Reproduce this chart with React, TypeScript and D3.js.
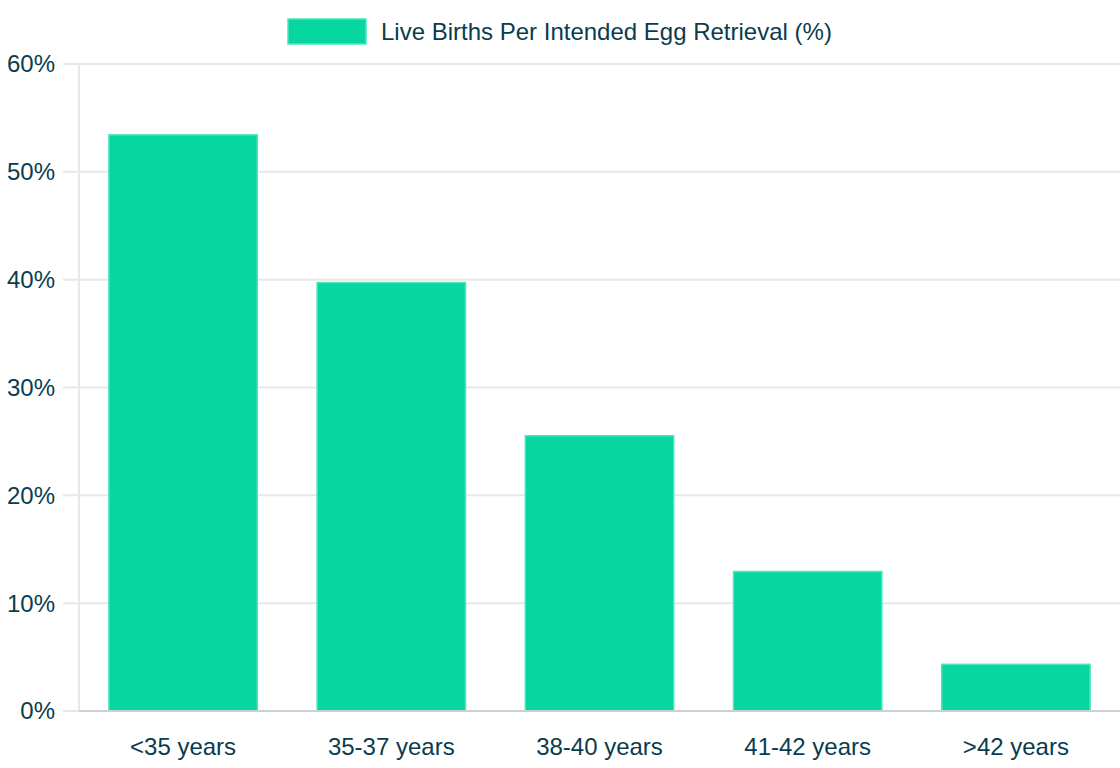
import { useEffect, useRef } from 'react';
import * as d3 from 'd3';

const categories = ['<35 years', '35-37 years', '38-40 years', '41-42 years', '>42 years'];
const liveBirths = [53.5, 39.8, 25.6, 13.0, 4.4];
const yTicks = [0, 10, 20, 30, 40, 50, 60];
const seriesLabel = 'Live Births Per Intended Egg Retrieval (%)';

const width = 1120;
const height = 768;
const barColor = '#06d6a0';
const barBorder = '#52e3bd';
const textColor = '#0b3c4d';
const gridColor = '#e6e8eb';
const font = '"Liberation Sans", Arial, Helvetica, sans-serif';

export default function App() {
  const svgRef = useRef<SVGSVGElement>(null);

  useEffect(() => {
    if (!svgRef.current) return;
    const margin = { top: 64, right: 0, bottom: 57, left: 79 };
    const innerWidth = width - margin.left - margin.right;
    const innerHeight = height - margin.top - margin.bottom;

    const svg = d3.select(svgRef.current);
    svg.selectAll('*').remove();

    const x = d3.scaleBand().domain(categories).range([0, innerWidth]).paddingInner(0).paddingOuter(0);
    const y = d3.scaleLinear().domain([0, 60]).range([innerHeight, 0]);

    const g = svg.append('g').attr('transform', `translate(${margin.left},${margin.top})`);

    // grid
    g.selectAll('line.grid')
      .data(yTicks)
      .enter()
      .append('line')
      .attr('x1', -16)
      .attr('x2', innerWidth)
      .attr('y1', (d) => y(d))
      .attr('y2', (d) => y(d))
      .attr('stroke', gridColor)
      .attr('stroke-width', 2);

    g.append('line')
      .attr('x1', 0)
      .attr('x2', 0)
      .attr('y1', 0)
      .attr('y2', innerHeight)
      .attr('stroke', gridColor)
      .attr('stroke-width', 2);

    // y labels
    g.selectAll('text.ytick')
      .data(yTicks)
      .enter()
      .append('text')
      .attr('x', -24)
      .attr('y', (d) => y(d))
      .attr('dy', '0.35em')
      .attr('text-anchor', 'end')
      .attr('fill', textColor)
      .style('font', `24px ${font}`)
      .text((d) => `${d}%`);

    // bars
    const bw = x.bandwidth() * 0.72;
    g.selectAll('rect.bar')
      .data(liveBirths)
      .enter()
      .append('rect')
      .attr('x', (_, i) => x(categories[i])! + (x.bandwidth() - bw) / 2 + 0.75)
      .attr('y', (d) => y(d) + 0.75)
      .attr('width', bw - 1.5)
      .attr('height', (d) => innerHeight - y(d) - 0.75)
      .attr('fill', barColor)
      .attr('stroke', barBorder)
      .attr('stroke-width', 1.5);

    // x axis line
    g.append('line')
      .attr('x1', 0)
      .attr('x2', innerWidth)
      .attr('y1', innerHeight)
      .attr('y2', innerHeight)
      .attr('stroke', '#c9d1d4')
      .attr('stroke-width', 2);

    // x labels
    g.selectAll('text.xtick')
      .data(categories)
      .enter()
      .append('text')
      .attr('x', (d) => x(d)! + x.bandwidth() / 2)
      .attr('y', innerHeight + 36)
      .attr('dy', '0.35em')
      .attr('text-anchor', 'middle')
      .attr('fill', textColor)
      .style('font', `24px ${font}`)
      .text((d) => d);

    // legend
    const legend = svg.append('g');
    legend
      .append('rect')
      .attr('x', 288)
      .attr('y', 19)
      .attr('width', 78)
      .attr('height', 25)
      .attr('fill', barColor)
      .attr('stroke', barBorder)
      .attr('stroke-width', 1.5);
    legend
      .append('text')
      .attr('x', 381)
      .attr('y', 32)
      .attr('dy', '0.35em')
      .attr('fill', textColor)
      .style('font', `24px ${font}`)
      .text(seriesLabel);
  }, []);

  return (
    <div style={{ position: 'absolute', left: 0, top: 0 }}>
      <svg ref={svgRef} width={width} height={height} style={{ display: 'block', background: '#fff' }} />
    </div>
  );
}
